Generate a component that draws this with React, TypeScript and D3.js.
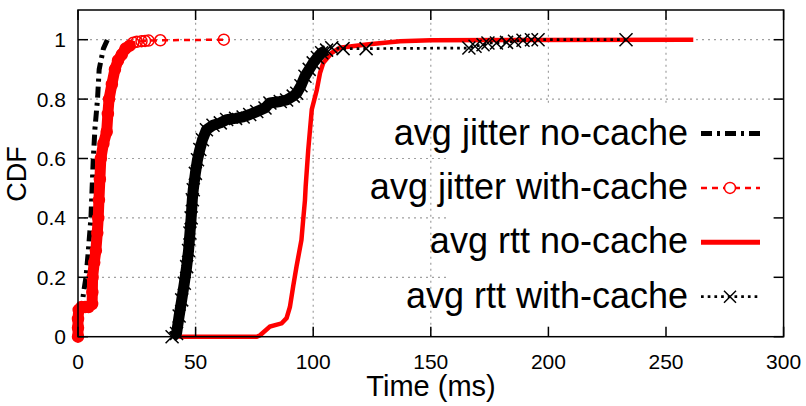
import { useEffect, useRef } from "react";
import * as d3 from "d3";

const xTicks = [0, 50, 100, 150, 200, 250, 300];
const yTicks = [0, 0.2, 0.4, 0.6, 0.8, 1];

// CDF points: [time in ms, cumulative fraction]
const jitterNoCache: [number, number][] = [
  [0, 0], [0.5, 0.05], [1.6, 0.1], [2.4, 0.15], [3.4, 0.2], [4.4, 0.29],
  [5.5, 0.4], [6, 0.5], [6.5, 0.6], [7.2, 0.7], [8.3, 0.8], [9, 0.9],
  [10.8, 0.97], [12.5, 1.0],
];

const jitterWithCache: [number, number][] = [
  [0, 0], [0, 0.03], [0, 0.06], [0.3, 0.09], [1.5, 0.1], [3, 0.1],
  [4.5, 0.1], [6, 0.11], [6.1, 0.15], [6.2, 0.2], [6.9, 0.25], [7.6, 0.29],
  [8.2, 0.35], [8.6, 0.4], [8.9, 0.46], [9.3, 0.53], [9.7, 0.6], [10.8, 0.65],
  [12.2, 0.69], [12.7, 0.75], [13.2, 0.8], [14.4, 0.85], [15.7, 0.9],
  [17, 0.93], [18.6, 0.95], [20.2, 0.97], [22, 0.98], [23.5, 0.99],
  [25, 0.993], [27, 0.995], [28.5, 0.996], [30, 0.997], [35, 0.998], [62, 1.0],
];

const rttNoCache: [number, number][] = [
  [43, 0], [60, 0], [76, 0], [77.4, 0.005], [81.6, 0.034], [86.6, 0.045],
  [88.7, 0.063], [90.1, 0.1], [91.5, 0.17], [92.9, 0.236], [95, 0.326],
  [95.7, 0.39], [96.5, 0.46], [96.8, 0.506], [97.9, 0.63], [99.4, 0.765],
  [101.5, 0.83], [102.9, 0.888], [104.3, 0.922], [107.9, 0.956],
  [111.4, 0.973], [122.7, 0.984], [136.9, 0.995], [150, 0.998], [261.6, 1.0],
];

const rttWithCache: [number, number][] = [
  [40, 0], [41.9, 0.011], [43, 0.07], [44.1, 0.124], [45.2, 0.18],
  [46.2, 0.236], [47, 0.29], [47.6, 0.349], [48.1, 0.4], [48.6, 0.461],
  [49, 0.495], [49.9, 0.55], [50.8, 0.596], [51.8, 0.63], [52.9, 0.663],
  [54.6, 0.697], [57.4, 0.712], [60.5, 0.72], [63.2, 0.731], [67, 0.735],
  [70.2, 0.74], [73, 0.748], [76, 0.758], [79.5, 0.77], [81.6, 0.787],
  [86, 0.792], [88.7, 0.797], [91.5, 0.81], [93, 0.82], [94.8, 0.845],
  [96.5, 0.877], [98.3, 0.9], [100, 0.922], [101.8, 0.94], [103.6, 0.956],
  [105.7, 0.965], [107.9, 0.973], [112.7, 0.97], [122.5, 0.97],
  [166.2, 0.972], [168.8, 0.978], [172.2, 0.983], [174.3, 0.989],
  [177.9, 0.989], [182.2, 0.991], [185.6, 0.995], [189.2, 0.998],
  [192.8, 1.0], [195.6, 1.0], [233, 1.0],
];

const legendLabels = [
  "avg jitter no-cache",
  "avg jitter with-cache",
  "avg rtt no-cache",
  "avg rtt with-cache",
];

const FONT = "'Liberation Sans', Arial, sans-serif";

function App() {
  const svgRef = useRef<SVGSVGElement>(null);

  useEffect(() => {
    const width = 806;
    const height = 406;
    const left = 78, right = 783.6, top = 10, bottom = 336.7;

    const x = d3.scaleLinear().domain([0, 300]).range([left, right]);
    const y = d3.scaleLinear().domain([0, 1.1]).range([bottom, top]);

    const svg = d3.select(svgRef.current);
    svg.selectAll("*").remove();
    svg.attr("width", width).attr("height", height);

    svg.append("rect").attr("width", width).attr("height", height).attr("fill", "#fff");

    // grid
    const grid = svg.append("g")
      .attr("stroke", "#a0a0a0")
      .attr("stroke-width", 1.2)
      .attr("stroke-dasharray", "2,4");
    xTicks.slice(1, -1).forEach(t => {
      grid.append("line").attr("x1", x(t)).attr("x2", x(t)).attr("y1", bottom).attr("y2", top);
    });
    yTicks.slice(1).forEach(t => {
      grid.append("line").attr("x1", left).attr("x2", right).attr("y1", y(t)).attr("y2", y(t));
    });

    const line = d3.line<[number, number]>().x(d => x(d[0])).y(d => y(d[1]));

    const plot = svg.append("g");

    // avg jitter no-cache
    plot.append("path")
      .attr("d", line(jitterNoCache))
      .attr("fill", "none")
      .attr("stroke", "#000")
      .attr("stroke-width", 5)
      .attr("stroke-dasharray", "11,5,3,5");

    // avg jitter with-cache (dense circles form a solid band)
    plot.append("path")
      .attr("d", line(jitterWithCache.filter(d => d[1] < 0.985)))
      .attr("fill", "none")
      .attr("stroke", "#ff0000")
      .attr("stroke-width", 11)
      .attr("stroke-linejoin", "round")
      .attr("stroke-linecap", "round");
    plot.append("path")
      .attr("d", line(jitterWithCache))
      .attr("fill", "none")
      .attr("stroke", "#ff0000")
      .attr("stroke-width", 2.5)
      .attr("stroke-dasharray", "6,5");
    plot.selectAll("circle.jw")
      .data(jitterWithCache)
      .enter()
      .append("circle")
      .attr("cx", d => x(d[0]))
      .attr("cy", d => y(d[1]))
      .attr("r", 5.5)
      .attr("fill", "none")
      .attr("stroke", "#ff0000")
      .attr("stroke-width", 1.5);

    // avg rtt no-cache
    plot.append("path")
      .attr("d", line(rttNoCache))
      .attr("fill", "none")
      .attr("stroke", "#ff0000")
      .attr("stroke-width", 4.5);

    // avg rtt with-cache (dense crosses form a black band)
    plot.append("path")
      .attr("d", line(rttWithCache.filter(d => d[1] < 0.97)))
      .attr("fill", "none")
      .attr("stroke", "#000")
      .attr("stroke-width", 11)
      .attr("stroke-linejoin", "round");
    plot.append("path")
      .attr("d", line(rttWithCache))
      .attr("fill", "none")
      .attr("stroke", "#000")
      .attr("stroke-width", 2.7)
      .attr("stroke-dasharray", "2.7,4");
    const cross = (g: any, cx: number, cy: number, s: number) => {
      g.append("path")
        .attr("d", `M${cx - s},${cy - s}L${cx + s},${cy + s}M${cx - s},${cy + s}L${cx + s},${cy - s}`)
        .attr("stroke", "#000")
        .attr("stroke-width", 1.5)
        .attr("fill", "none");
    };
    rttWithCache.forEach(d => cross(plot, x(d[0]), y(d[1]), 6.5));

    // opaque key box
    svg.append("rect")
      .attr("x", 447).attr("y", 106)
      .attr("width", right - 447).attr("height", bottom - 106)
      .attr("fill", "#fff");

    // border + ticks
    const axes = svg.append("g").attr("stroke", "#000").attr("stroke-width", 1.5);
    axes.append("rect")
      .attr("x", left).attr("y", top)
      .attr("width", right - left).attr("height", bottom - top)
      .attr("fill", "none");
    xTicks.forEach(t => {
      axes.append("line").attr("x1", x(t)).attr("x2", x(t)).attr("y1", bottom).attr("y2", bottom - 10);
      axes.append("line").attr("x1", x(t)).attr("x2", x(t)).attr("y1", top).attr("y2", top + 10);
    });
    yTicks.forEach(t => {
      axes.append("line").attr("x1", left).attr("x2", left + 10).attr("y1", y(t)).attr("y2", y(t));
      axes.append("line").attr("x1", right).attr("x2", right - 10).attr("y1", y(t)).attr("y2", y(t));
    });

    // tick labels
    svg.append("g")
      .selectAll("text")
      .data(xTicks)
      .enter()
      .append("text")
      .attr("x", d => x(d))
      .attr("y", 368.5)
      .attr("text-anchor", "middle")
      .attr("font-family", FONT)
      .attr("font-size", 21)
      .text(d => d);
    svg.append("g")
      .selectAll("text")
      .data(yTicks)
      .enter()
      .append("text")
      .attr("x", 66)
      .attr("y", d => y(d))
      .attr("dy", "0.36em")
      .attr("text-anchor", "end")
      .attr("font-family", FONT)
      .attr("font-size", 21)
      .text(d => d3.format("")(d));

    svg.append("text")
      .attr("x", 431)
      .attr("y", 395.5)
      .attr("text-anchor", "middle")
      .attr("font-family", FONT)
      .attr("font-size", 29)
      .text("Time (ms)");
    svg.append("text")
      .attr("transform", "translate(25.5,174) rotate(-90)")
      .attr("text-anchor", "middle")
      .attr("font-family", FONT)
      .attr("font-size", 27)
      .text("CDF");

    // legend
    const legend = svg.append("g");
    legendLabels.forEach((label, i) => {
      const ly = 133.5 + i * 54.4;
      legend.append("text")
        .attr("x", 688)
        .attr("y", ly + 11)
        .attr("text-anchor", "end")
        .attr("font-family", FONT)
        .attr("font-size", 36)
        .text(label);
      const s = legend.append("line")
        .attr("x1", 701).attr("x2", 760)
        .attr("y1", ly).attr("y2", ly)
        .attr("fill", "none");
      if (i === 0) {
        s.attr("stroke", "#000").attr("stroke-width", 5).attr("stroke-dasharray", "11,5,3,5");
      } else if (i === 1) {
        s.attr("stroke", "#ff0000").attr("stroke-width", 2.5).attr("stroke-dasharray", "6,5");
        legend.append("circle")
          .attr("cx", 730).attr("cy", ly).attr("r", 5.5)
          .attr("fill", "#fff").attr("stroke", "#ff0000").attr("stroke-width", 1.5);
      } else if (i === 2) {
        s.attr("stroke", "#ff0000").attr("stroke-width", 5);
      } else {
        s.attr("stroke", "#000").attr("stroke-width", 2.7).attr("stroke-dasharray", "2.7,4");
        cross(legend, 730, ly, 6);
      }
    });
  }, []);

  return (
    <svg ref={svgRef} style={{ position: "absolute", left: 0, top: 0 }} />
  );
}

export default App;
